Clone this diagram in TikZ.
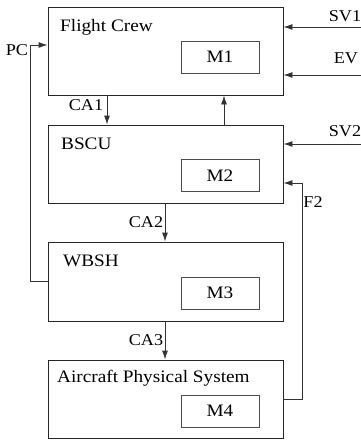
\documentclass[tikz,border=0pt]{standalone}
\usepackage{fontspec}
\setmainfont{Liberation Serif}[FakeStretch=1.1]
\usetikzlibrary{arrows.meta}
\begin{document}
\begin{tikzpicture}[x=1pt,y=-1pt,
  bigbox/.style={draw=black!85,line width=0.9pt,minimum width=235pt,inner sep=0pt},
  mbox/.style={draw=black!70,line width=0.9pt,minimum width=78pt,minimum height=32pt,inner sep=0pt,font=\fontsize{17.5}{17.5}\selectfont},
  ttl/.style={anchor=west,inner sep=0pt,font=\fontsize{17.5}{17.5}\selectfont},
  lbl/.style={inner sep=0pt,font=\fontsize{16.5}{16.5}\selectfont},
  conn/.style={draw=black!80,line width=0.9pt,-{Latex[length=9pt,width=6pt]}},
  plain/.style={draw=black!80,line width=0.9pt}]
\useasboundingbox (0,0) rectangle (361,440);
% boxes
\node[bigbox,minimum height=88pt] (fc) at (165.5,51) {};
\node[bigbox,minimum height=78pt] (bscu) at (165.5,164) {};
\node[bigbox,minimum height=79pt] (wbsh) at (165.5,281.5) {};
\node[bigbox,minimum height=78pt] (aps) at (165.5,399) {};
\node[mbox] (m1) at (220,57) {M1};
\node[mbox] (m2) at (220,175.5) {M2};
\node[mbox] (m3) at (220,293) {M3};
\node[mbox] (m4) at (220,411) {M4};
\node[ttl] (tfc) at (60,27) {Flight Crew};
\node[ttl] (tbscu) at (61,144) {BSCU};
\node[ttl] (twbsh) at (63,261) {WBSH};
\node[ttl] (taps) at (57,378) {Aircraft Physical System};
% free ends
\coordinate (sv1s) at (361,27);
\coordinate (evs) at (361,75);
\coordinate (sv2s) at (361,144);
\coordinate (f2r) at (302,183);
\coordinate (f2b) at (302,399);
\coordinate (pcb) at (30,281);
\coordinate (pct) at (30,45);
\coordinate (ca1x) at (107,0);
\coordinate (upx) at (224,0);
\coordinate (ca2x) at (165,0);
% connectors
\draw[conn] (sv1s) -- (sv1s -| fc.east);
\draw[conn] (evs) -- (evs -| fc.east);
\draw[conn] (sv2s) -- (sv2s -| bscu.east);
\draw[conn] (f2b -| aps.east) -- (f2b) -- (f2r) -- (f2r -| bscu.east);
\draw[conn] (pcb -| wbsh.west) -- (pcb) -- (pct) -- (pct -| fc.west);
\draw[conn] (ca1x |- fc.south) -- (ca1x |- bscu.north);
\draw[conn] (upx |- bscu.north) -- (upx |- fc.south);
\draw[conn] (ca2x |- bscu.south) -- (ca2x |- wbsh.north);
\draw[conn] (ca2x |- wbsh.south) -- (ca2x |- aps.north);
% labels
\node[lbl] (lsv1) at (345,16) {SV1};
\node[lbl] (lev) at (346,58) {EV};
\node[lbl] (lsv2) at (345,131) {SV2};
\node[lbl] (lf2) at (313,202) {F2};
\node[lbl] (lpc) at (17,50) {PC};
\node[lbl] (lca1) at (86,105) {CA1};
\node[lbl] (lca2) at (146,222) {CA2};
\node[lbl] (lca3) at (146,340) {CA3};
\end{tikzpicture}
\end{document}
